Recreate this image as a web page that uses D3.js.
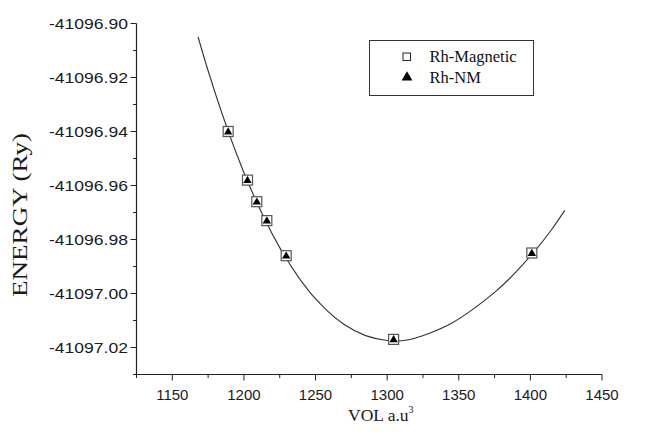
<!DOCTYPE html>
<html>
<head>
<meta charset="utf-8">
<script src="https://cdn.jsdelivr.net/npm/d3@7/dist/d3.min.js"></script>
<style>
  html, body { margin: 0; padding: 0; background: #ffffff; }
  svg { display: block; }
</style>
</head>
<body>
<svg id="chart" width="650" height="435"></svg>
<script>
// ---- data ----
const xTicks = [1150, 1200, 1250, 1300, 1350, 1400, 1450];
const yTicks = [-41096.90, -41096.92, -41096.94, -41096.96, -41096.98, -41097.00, -41097.02];
const xMinorTicks = [1125, 1175, 1225, 1275, 1325, 1375, 1425];
const yMinorTicks = [-41096.91, -41096.93, -41096.95, -41096.97, -41096.99, -41097.01, -41097.03];

const seriesNames = ["Rh-Magnetic", "Rh-NM"];
const volMagnetic = [1189, 1202.5, 1209, 1216, 1229.5, 1304.5, 1401];
const energyMagnetic = [-41096.940, -41096.958, -41096.966, -41096.973, -41096.986, -41097.017, -41096.985];
const volNM = [1189, 1202.5, 1209, 1216, 1229.5, 1304.5, 1401];
const energyNM = [-41096.940, -41096.958, -41096.966, -41096.973, -41096.986, -41097.017, -41096.985];

// fitted curve
const curveVol = [1168, 1175, 1185, 1195, 1205, 1215, 1225, 1240, 1255, 1270, 1285, 1300, 1315, 1330, 1345, 1360, 1375, 1390, 1405, 1415, 1424];
const curveEnergy = [-41096.9050, -41096.9175, -41096.9338, -41096.9485, -41096.9615, -41096.9730, -41096.9830,
  -41096.9954, -41097.0048, -41097.0115, -41097.0156, -41097.0174, -41097.0171, -41097.0146, -41097.0110,
  -41097.0058, -41096.9996, -41096.9920, -41096.9830, -41096.9762, -41096.9692];

// ---- layout ----
const svg = d3.select("#chart");
const x = d3.scaleLinear().domain([1125, 1450]).range([136.5, 602]);
const y = d3.scaleLinear().domain([-41097.03, -41096.90]).range([374.5, 23.5]);

const axisColor = "#222";
const sans = "'Liberation Sans', Arial, sans-serif";
const serif = "'Liberation Serif', 'Times New Roman', serif";

// axes lines
svg.append("line").attr("x1", x(1125)).attr("x2", x(1125)).attr("y1", y(-41096.90)).attr("y2", y(-41097.03))
  .attr("stroke", axisColor).attr("stroke-width", 1.2);
svg.append("line").attr("x1", x(1125)).attr("x2", x(1450)).attr("y1", y(-41097.03)).attr("y2", y(-41097.03))
  .attr("stroke", axisColor).attr("stroke-width", 1.2);

// y major ticks
svg.selectAll(".ytick").data(yTicks).enter().append("line")
  .attr("x1", x(1125) - 6).attr("x2", x(1125))
  .attr("y1", d => y(d)).attr("y2", d => y(d))
  .attr("stroke", axisColor).attr("stroke-width", 1);
svg.selectAll(".yminor").data(yMinorTicks).enter().append("line")
  .attr("x1", x(1125) - 3.5).attr("x2", x(1125))
  .attr("y1", d => y(d)).attr("y2", d => y(d))
  .attr("stroke", axisColor).attr("stroke-width", 1);
svg.selectAll(".ylab").data(yTicks).enter().append("text")
  .attr("x", 128).attr("y", d => y(d) + 5)
  .attr("text-anchor", "end")
  .attr("font-family", sans).attr("font-size", 15)
  .attr("textLength", 79).attr("lengthAdjust", "spacingAndGlyphs")
  .attr("fill", "#1a1a1a")
  .text(d => d.toFixed(2));

// x ticks
svg.selectAll(".xtick").data(xTicks).enter().append("line")
  .attr("x1", d => x(d)).attr("x2", d => x(d))
  .attr("y1", y(-41097.03)).attr("y2", y(-41097.03) + 6)
  .attr("stroke", axisColor).attr("stroke-width", 1);
svg.selectAll(".xminor").data(xMinorTicks).enter().append("line")
  .attr("x1", d => x(d)).attr("x2", d => x(d))
  .attr("y1", y(-41097.03)).attr("y2", y(-41097.03) + 3.5)
  .attr("stroke", axisColor).attr("stroke-width", 1);
svg.selectAll(".xlab").data(xTicks).enter().append("text")
  .attr("x", d => x(d)).attr("y", 399.5)
  .attr("text-anchor", "middle")
  .attr("font-family", sans).attr("font-size", 15)
  .attr("fill", "#1a1a1a")
  .text(d => d);

// axis titles
const xt = svg.append("text").attr("x", 348).attr("y", 421)
  .attr("font-family", serif).attr("font-size", 17.5).attr("fill", "#1a1a1a");
xt.append("tspan").text("VOL a.u");
xt.append("tspan").attr("font-size", 10).attr("dy", -8).text("3");

svg.append("text")
  .attr("transform", "translate(26.5,215) rotate(-90)")
  .attr("text-anchor", "middle")
  .attr("font-family", serif).attr("font-size", 20)
  .attr("textLength", 164).attr("lengthAdjust", "spacingAndGlyphs")
  .attr("fill", "#1a1a1a")
  .text("ENERGY (Ry)");

// fitted curve
const curvePts = curveVol.map((v, i) => [v, curveEnergy[i]]);
svg.append("path")
  .datum(curvePts)
  .attr("d", d3.line().x(d => x(d[0])).y(d => y(d[1])).curve(d3.curveNatural))
  .attr("fill", "none").attr("stroke", "#333").attr("stroke-width", 1.1);

// markers: open squares (Rh-Magnetic)
const sq = 10;
svg.selectAll(".mag").data(volMagnetic.map((v, i) => [v, energyMagnetic[i]])).enter().append("rect")
  .attr("x", d => x(d[0]) - sq / 2).attr("y", d => y(d[1]) - sq / 2)
  .attr("width", sq).attr("height", sq)
  .attr("fill", "#fff").attr("stroke", "#555").attr("stroke-width", 1.2);

// filled triangles (Rh-NM)
const tri = d3.symbol().type(d3.symbolTriangle).size(30);
svg.selectAll(".nm").data(volNM.map((v, i) => [v, energyNM[i]])).enter().append("path")
  .attr("d", tri)
  .attr("transform", d => `translate(${x(d[0])},${y(d[1]) + 0.5})`)
  .attr("fill", "#000");

// legend
svg.append("rect").attr("x", 369.5).attr("y", 40.5).attr("width", 164).attr("height", 55)
  .attr("fill", "#fff").attr("stroke", "#333").attr("stroke-width", 1);
svg.append("rect").attr("x", 403).attr("y", 53).attr("width", 7.5).attr("height", 7.5)
  .attr("fill", "#fff").attr("stroke", "#222").attr("stroke-width", 1);
svg.append("path").attr("d", d3.symbol().type(d3.symbolTriangle).size(50))
  .attr("transform", "translate(407,77.5)").attr("fill", "#000");
svg.append("text").attr("x", 429.5).attr("y", 62).attr("font-family", serif).attr("font-size", 16.5)
  .attr("fill", "#111").text(seriesNames[0]);
svg.append("text").attr("x", 429.5).attr("y", 83).attr("font-family", serif).attr("font-size", 16.5)
  .attr("fill", "#111").text(seriesNames[1]);
</script>
</body>
</html>
